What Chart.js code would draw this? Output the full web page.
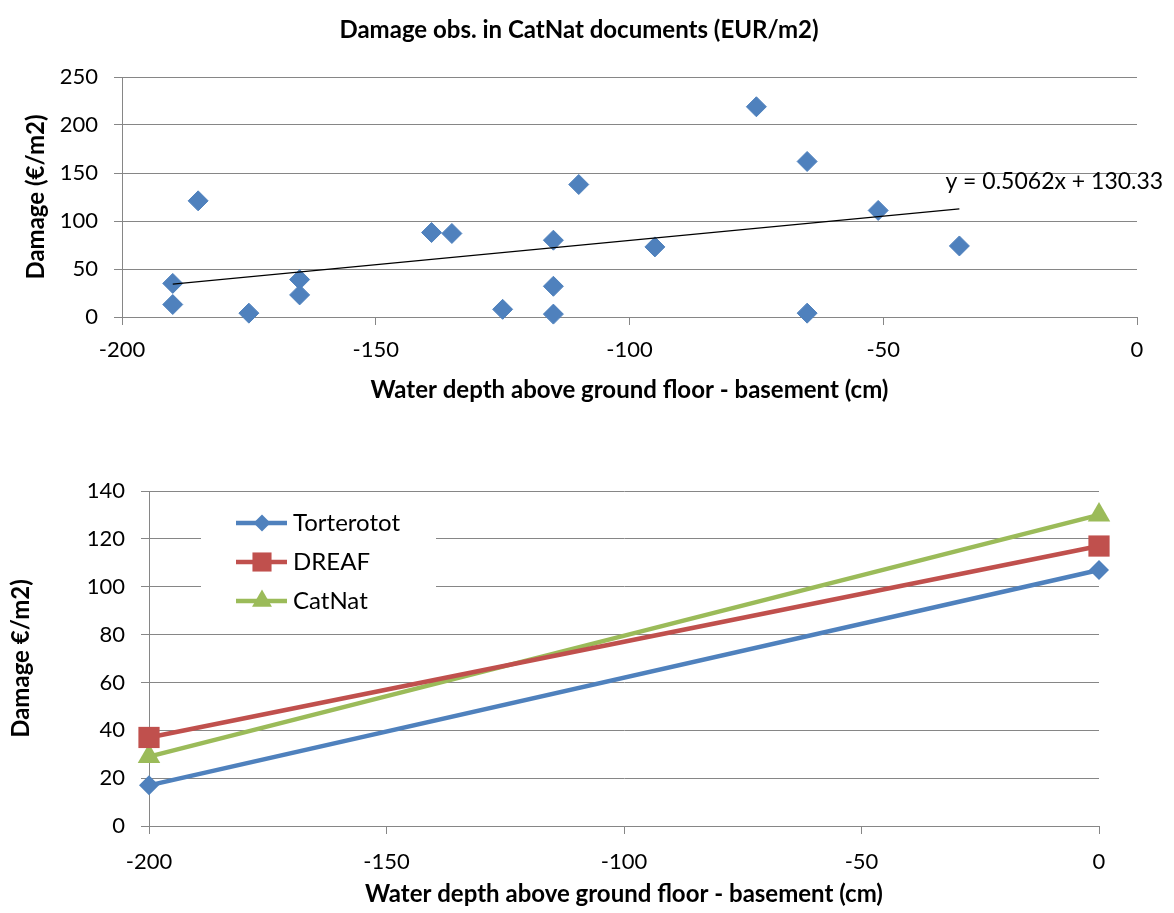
<!DOCTYPE html>
<html>
<head>
<meta charset="utf-8">
<script src="https://cdn.jsdelivr.net/npm/chart.js@4.4.0/dist/chart.umd.min.js"></script>
<style>
  html, body { margin: 0; padding: 0; background: #fff; }
  #top { position: absolute; left: 0; top: 0; width: 1174px; height: 440px; }
  #bottom { position: absolute; left: 0; top: 440px; width: 1174px; height: 473px; }
</style>
</head>
<body>
<div id="top"><canvas id="scatterCanvas"></canvas></div>
<div id="bottom"><canvas id="lineCanvas"></canvas></div>
<script>
// CatNat observations: water depth (cm) / damage (EUR/m2)
const obsDepth  = [-190, -190, -185, -175, -165, -165, -139, -135, -125, -115, -115, -115, -110, -95, -75, -65, -65, -51, -35]
const obsDamage = [35, 13, 121, 4, 39, 23, 88, 87, 8, 80, 32, 3, 138, 73, 219, 162, 4, 111, 74]

// linear fit shown on the scatter
const trendSlope = 0.5062
const trendIntercept = 130.33
const trendRange = [-190, -35]

// damage functions compared in the lower chart
const depthCm = [-200, 0]
const torterotot = [17, 107]
const dreaf = [37, 117]
const catnat = [29, 130]

const blue = '#4F81BD'
const red = '#C0504D'
const green = '#9BBB59'
const gridGrey = '#868686'

Chart.defaults.font.family = 'Lato'
Chart.defaults.font.size = 22
Chart.defaults.color = '#000'
Chart.defaults.animation = false
Chart.defaults.plugins.legend.display = false
Chart.defaults.plugins.tooltip.enabled = false

const xTitle = 'Water depth above ground floor - basement (cm)'
const titleFont = { weight: 'bold', size: 24 }

// title + regression label on top chart
const scatterText = {
  id: 'scatterText',
  afterDraw(chart) {
    const { ctx } = chart
    const xs = chart.scales.x, ys = chart.scales.y
    const endX = trendRange[1]
    ctx.save()
    ctx.fillStyle = '#000'
    ctx.textBaseline = 'middle'
    ctx.textAlign = 'center'
    ctx.font = 'bold 24px Lato'
    ctx.fillText('Damage obs. in CatNat documents (EUR/m2)', 579, 30)
    ctx.textAlign = 'left'
    ctx.font = '23px Lato'
    ctx.fillText('y = ' + trendSlope + 'x + ' + trendIntercept,
      xs.getPixelForValue(endX) - 14, ys.getPixelForValue(trendSlope * endX + trendIntercept) - 27)
    ctx.restore()
  }
}

const trendData = trendRange.map(x => ({ x: x, y: trendSlope * x + trendIntercept }))

const scatterCanvas = document.getElementById('scatterCanvas')
let scatterChart = new Chart(scatterCanvas, {
  type: 'scatter',
  data: {
    datasets: [
      {
        type: 'line',
        label: 'Linear fit',
        data: trendData,
        borderColor: '#000',
        borderWidth: 1.2,
        pointRadius: 0,
        fill: false
      },
      {
        label: 'CatNat',
        data: obsDepth.map((d, i) => ({ x: d, y: obsDamage[i] })),
        pointStyle: 'rectRot',
        pointRadius: 10,
        backgroundColor: blue,
        borderColor: blue,
        borderWidth: 1,
        clip: false
      }
    ]
  },
  options: {
    responsive: true,
    maintainAspectRatio: false,
    layout: { padding: { top: 77, right: 37, left: 0, bottom: 0 } },
    scales: {
      x: {
        type: 'linear',
        min: -200,
        max: 0,
        ticks: { stepSize: 50, padding: 12 },
        grid: { drawOnChartArea: false, tickLength: 8, color: gridGrey },
        border: { color: gridGrey },
        title: { display: true, text: xTitle, font: titleFont, padding: { top: 0, bottom: 35 } },
        afterFit: (scale) => { scale.height = 123 }
      },
      y: {
        min: 0,
        max: 250,
        ticks: { stepSize: 50, padding: 16 },
        grid: { tickLength: 8, color: gridGrey },
        border: { color: gridGrey },
        title: { display: true, text: 'Damage (€/m2)', font: titleFont, padding: { top: 22, bottom: 0 } },
        afterFit: (scale) => { scale.width = 122 }
      }
    }
  },
  plugins: [scatterText]
})

// legend box sitting inside the plot area
const insideLegend = {
  id: 'insideLegend',
  beforeDatasetsDraw(chart) {
    const { ctx, chartArea } = chart
    const x0 = chartArea.left, y0 = chartArea.top
    ctx.save()
    ctx.fillStyle = '#fff'
    ctx.fillRect(x0 + 52, y0 + 6, 235, 126)
    ctx.font = '24px Lato'
    ctx.textBaseline = 'middle'
    ctx.textAlign = 'left'
    chart.data.datasets.forEach((ds, i) => {
      const y = y0 + 32 + i * 39
      ctx.strokeStyle = ds.borderColor
      ctx.lineWidth = 4.5
      ctx.beginPath()
      ctx.moveTo(x0 + 87, y)
      ctx.lineTo(x0 + 138, y)
      ctx.stroke()
      ctx.fillStyle = ds.backgroundColor
      Chart.helpers.drawPoint(ctx, { pointStyle: ds.pointStyle, radius: ds.pointRadius - 1.5, borderWidth: 0, rotation: 0 }, x0 + 113, y)
      ctx.fillStyle = '#000'
      ctx.fillText(ds.label, x0 + 144, y)
    })
    ctx.restore()
  }
}

const series = (label, values, colour, style, radius) => ({
  label: label,
  data: depthCm.map((d, i) => ({ x: d, y: values[i] })),
  borderColor: colour,
  backgroundColor: colour,
  borderWidth: 4.5,
  pointStyle: style,
  pointRadius: radius,
  pointBorderWidth: 0,
  tension: 0,
  clip: false
})

const lineCanvas = document.getElementById('lineCanvas')
let lineChart = new Chart(lineCanvas, {
  type: 'line',
  data: {
    datasets: [
      series('Torterotot', torterotot, blue, 'rectRot', 10),
      series('DREAF', dreaf, red, 'rect', 15),
      series('CatNat', catnat, green, 'triangle', 13)
    ]
  },
  options: {
    responsive: true,
    maintainAspectRatio: false,
    layout: { padding: { top: 51, right: 75, left: 0, bottom: 0 } },
    scales: {
      x: {
        type: 'linear',
        min: -200,
        max: 0,
        ticks: { stepSize: 50, padding: 15 },
        grid: { drawOnChartArea: false, tickLength: 8, color: gridGrey },
        border: { color: gridGrey },
        title: { display: true, text: xTitle, font: titleFont, padding: { top: 0, bottom: 4 } },
        afterFit: (scale) => { scale.height = 87 }
      },
      y: {
        min: 0,
        max: 140,
        ticks: { stepSize: 20, padding: 16 },
        grid: { tickLength: 8, color: gridGrey },
        border: { color: gridGrey },
        title: { display: true, text: 'Damage €/m2)', font: titleFont, padding: { top: 7, bottom: 0 } },
        afterFit: (scale) => { scale.width = 149 }
      }
    }
  },
  plugins: [insideLegend]
})
</script>
</body>
</html>
